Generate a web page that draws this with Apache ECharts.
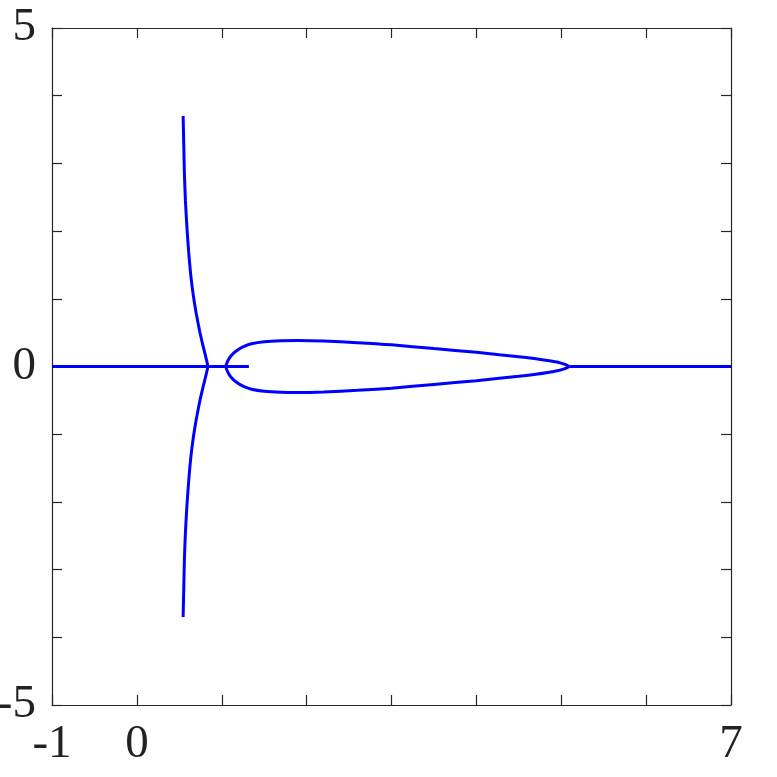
<!DOCTYPE html>
<html>
<head>
<meta charset="utf-8">
<script src="https://cdn.jsdelivr.net/npm/echarts@6/dist/echarts.min.js"></script>
<style>html,body{margin:0;padding:0;background:#fff}#c{width:777px;height:777px}</style>
</head>
<body>
<div id="c"></div>
<script>
// Axis ranges and tick labels
const xMin = -1, xMax = 7, yMin = -5, yMax = 5;
const xTickLabels = [-1, 0, 7];
const yTickLabels = [-5, 0, 5];

// Real-axis segments [x start, x end] at y = 0
const leftSegX = [-1, 1.32];
const rightSegX = [5.094, 7];

// Upper half of the closed loop (lower half is its mirror image)
const loopX = [1.05, 1.07, 1.11, 1.17, 1.25, 1.35, 1.5, 1.7, 1.9, 2.2, 2.6, 3.0, 3.5, 4.0, 4.27, 4.5, 4.7, 4.86, 4.97, 5.035, 5.07, 5.094];
const loopY = [0, 0.08, 0.16, 0.23, 0.29, 0.335, 0.365, 0.38, 0.383, 0.375, 0.352, 0.32, 0.265, 0.21, 0.175, 0.145, 0.115, 0.085, 0.06, 0.035, 0.017, 0];

// Upper half of the near-vertical branch (lower half is its mirror image)
const branchX = [0.835, 0.81, 0.78, 0.74, 0.70, 0.665, 0.635, 0.61, 0.59, 0.572, 0.56, 0.552, 0.545];
const branchY = [0, 0.15, 0.3, 0.52, 0.78, 1.05, 1.35, 1.7, 2.05, 2.45, 2.85, 3.3, 3.7];

const lineColor = '#0000ff';
const axisColor = '#262626';
const font = '"Liberation Serif", "DejaVu Serif", serif';

function upperLower(xs, ys) {
  const up = xs.map((x, i) => [x, ys[i]]).reverse();
  const low = xs.map((x, i) => [x, -ys[i]]);
  return up.concat(low.slice(1));
}
const loopData = upperLower(loopX, loopY);
const branchData = upperLower(branchX, branchY);

const chart = echarts.init(document.getElementById('c'), null, {renderer: 'canvas'});
const axisCommon = {
  type: 'value',
  interval: 1,
  axisLine: {show: true, onZero: false, lineStyle: {color: axisColor, width: 1.2}},
  axisTick: {show: true, inside: true, length: 10, lineStyle: {color: axisColor, width: 1.2}},
  splitLine: {show: false}
};
const lineStyleCommon = {color: lineColor, width: 3};
chart.setOption({
  animation: false,
  backgroundColor: '#fff',
  grid: {left: 52, right: 46, top: 28, bottom: 72, containLabel: false, outerBoundsMode: 'none'},
  xAxis: [
    Object.assign({}, axisCommon, {
      min: xMin, max: xMax, position: 'bottom',
      axisLabel: {
        show: true, margin: 16, color: '#222', fontFamily: font, fontSize: 47,
        formatter: v => xTickLabels.indexOf(v) >= 0 ? String(v) : ''
      }
    }),
    Object.assign({}, axisCommon, {
      min: xMin, max: xMax, position: 'top', axisLabel: {show: false}
    })
  ],
  yAxis: [
    Object.assign({}, axisCommon, {
      min: yMin, max: yMax, position: 'left',
      axisLabel: {
        show: true, margin: 16, color: '#222', fontFamily: font, fontSize: 47,
        formatter: v => yTickLabels.indexOf(v) >= 0 ? String(v) : ''
      }
    }),
    Object.assign({}, axisCommon, {
      min: yMin, max: yMax, position: 'right', axisLabel: {show: false}
    })
  ],
  series: [
    {type: 'line', data: leftSegX.map(x => [x, 0]), showSymbol: false, lineStyle: lineStyleCommon},
    {type: 'line', data: rightSegX.map(x => [x, 0]), showSymbol: false, lineStyle: lineStyleCommon},
    {type: 'line', data: loopData, showSymbol: false, smooth: 0.25, lineStyle: lineStyleCommon},
    {type: 'line', data: branchData, showSymbol: false, smooth: 0.2, lineStyle: lineStyleCommon}
  ]
});
</script>
</body>
</html>
